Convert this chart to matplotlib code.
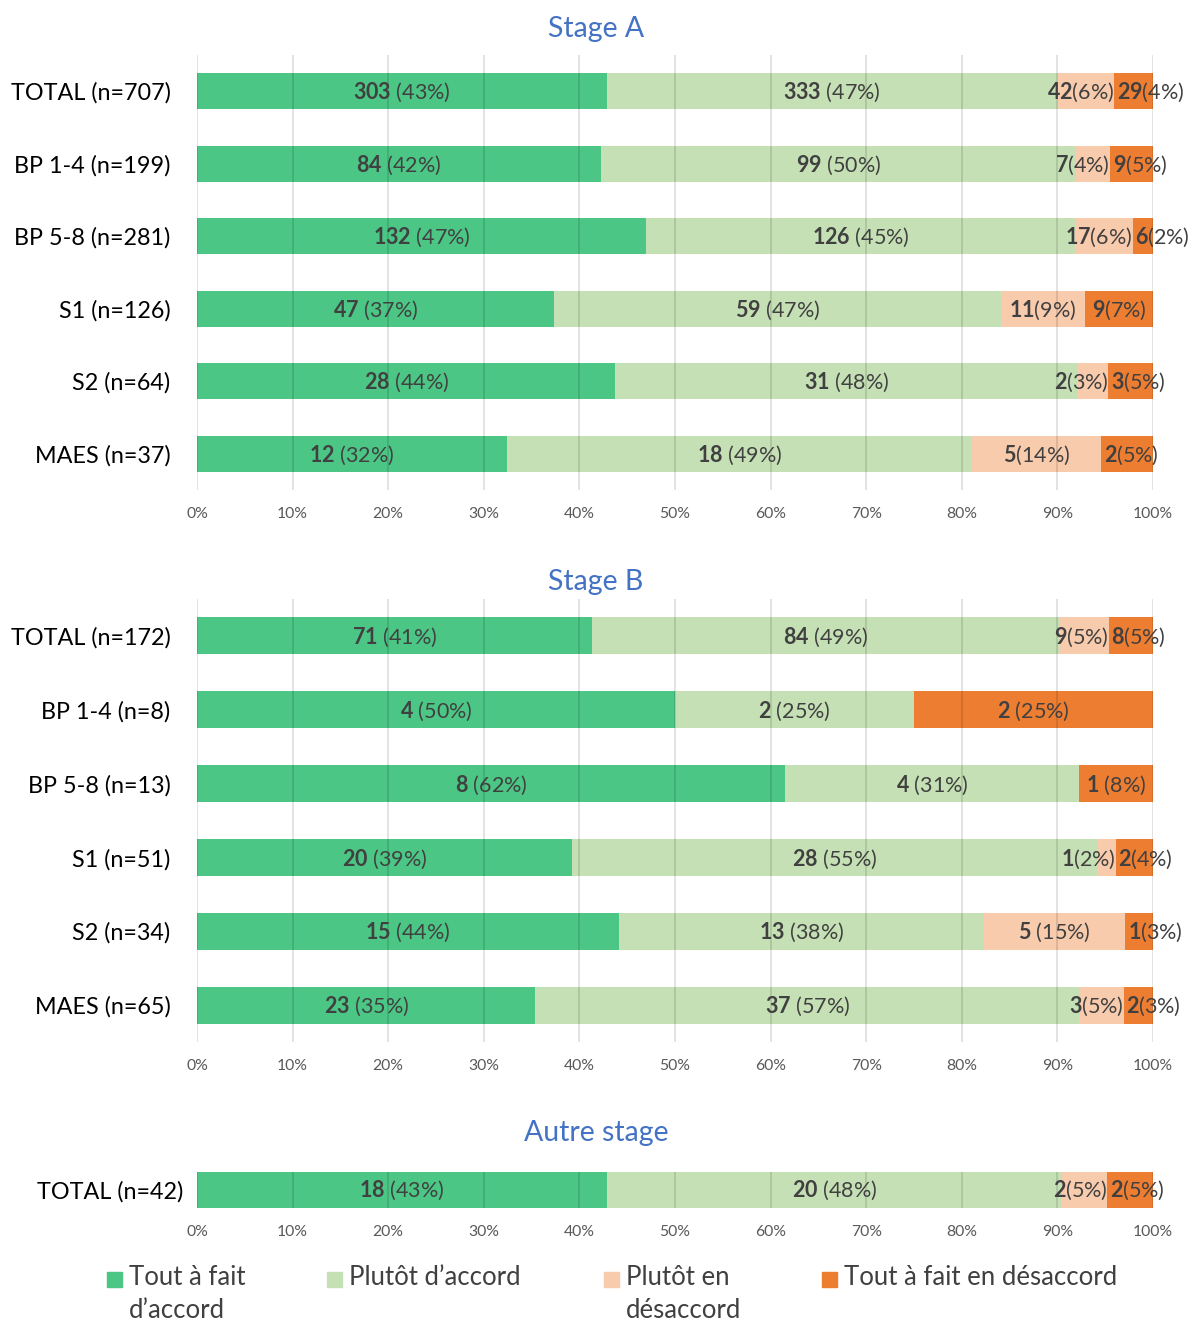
import matplotlib.pyplot as plt
from matplotlib.patches import Rectangle
from matplotlib.ticker import PercentFormatter

plt.rcParams['font.family'] = ['Lato', 'DejaVu Sans']
plt.rcParams['mathtext.fontset'] = 'custom'
plt.rcParams['mathtext.rm'] = 'Lato'
plt.rcParams['mathtext.bf'] = 'Lato:bold'

series = ['Tout à fait\nd’accord', 'Plutôt d’accord', 'Plutôt en\ndésaccord', 'Tout à fait en désaccord']
colors = ['#4BC685', '#C5E0B4', '#F8CBAD', '#ED7D31']

# Stage A
groups_a = ['TOTAL (n=707)', 'BP 1-4 (n=199)', 'BP 5-8 (n=281)', 'S1 (n=126)', 'S2 (n=64)', 'MAES (n=37)']
a_tout = [303, 84, 132, 47, 28, 12]
a_plutot = [333, 99, 126, 59, 31, 18]
a_pasplutot = [42, 7, 17, 11, 2, 5]
a_pastout = [29, 9, 6, 9, 3, 2]

# Stage B
groups_b = ['TOTAL (n=172)', 'BP 1-4 (n=8)', 'BP 5-8 (n=13)', 'S1 (n=51)', 'S2 (n=34)', 'MAES (n=65)']
b_tout = [71, 4, 8, 20, 15, 23]
b_plutot = [84, 2, 4, 28, 13, 37]
b_pasplutot = [9, 0, 0, 1, 5, 3]
b_pastout = [8, 2, 1, 2, 1, 2]

# Autre stage
groups_c = ['TOTAL (n=42)']
c_tout = [18]
c_plutot = [20]
c_pasplutot = [2]
c_pastout = [2]

W, H = 1192, 1323
fig = plt.figure(figsize=(W / 100, H / 100), dpi=100)
renderer = fig.canvas.get_renderer()

x0, x1 = 197, 1153


def make_ax(top, bottom):
    return fig.add_axes([x0 / W, 1 - bottom / H, (x1 - x0) / W, (bottom - top) / H])


def draw_panel(ax, groups, counts, title, title_y, bar_h, lab_pad):
    totals = [sum(c) for c in zip(*counts)]
    ypos = list(range(len(groups)))
    left = [0.0] * len(groups)
    ax_w = ax.get_window_extent(renderer).width
    for k, vals in enumerate(counts):
        frac = [v / t for v, t in zip(vals, totals)]
        ax.barh(ypos, frac, left=left, height=bar_h, color=colors[k], zorder=1)
        for i, (v, f) in enumerate(zip(vals, frac)):
            if v == 0:
                continue
            pct = round(f * 100)
            sep = '' if (f < 0.145 and totals[i] > 20) else ' '
            s = r'$\mathbf{%d}$%s(%d%%)' % (v, sep, pct)
            t = ax.text(left[i] + f / 2, i + 0.02, s, ha='center', va='center',
                        fontsize=15.5, color='#404040', zorder=3)
            tw = t.get_window_extent(renderer).width
            # labels that do not fit are pushed apart like in the original
            if tw > f * ax_w - 2:
                if k == 2:
                    t.set_x(left[i] + f)
                    t.set_ha('right')
                elif k == 3:
                    t.set_x(left[i] + 0.003)
                    t.set_ha('left')
        left = [l + f for l, f in zip(left, frac)]

    ax.set_xlim(0, 1)
    ax.set_ylim(len(groups) - 0.5, -0.5)
    ax.set_yticks(ypos)
    ax.set_yticklabels(groups, fontsize=16.8, color='black')
    ax.set_xticks([i / 10 for i in range(11)])
    ax.xaxis.set_major_formatter(PercentFormatter(1.0, decimals=0))
    ax.tick_params(axis='x', length=0, pad=12, labelsize=11.3, labelcolor='#595959')
    ax.tick_params(axis='y', length=0, pad=lab_pad)
    ax.grid(axis='x', color='black', alpha=0.12, linewidth=1.3, zorder=2)
    ax.set_axisbelow(False)
    for sp in ax.spines.values():
        sp.set_visible(False)
    fig.text(0.5, 1 - title_y / H, title, ha='center', va='center',
             fontsize=20.5, color='#4472C4')


ax_a = make_ax(55, 490)
draw_panel(ax_a, groups_a, [a_tout, a_plutot, a_pasplutot, a_pastout], 'Stage A', 29, 0.5, 19)

ax_b = make_ax(599, 1042)
draw_panel(ax_b, groups_b, [b_tout, b_plutot, b_pasplutot, b_pastout], 'Stage B', 582, 0.5, 19)

ax_c = make_ax(1172, 1208)
draw_panel(ax_c, groups_c, [c_tout, c_plutot, c_pasplutot, c_pastout], 'Autre stage', 1133, 1.0, 10)

# legend
leg_x = [107, 327, 604, 822]
for lx, name, col in zip(leg_x, series, colors):
    fig.patches.append(Rectangle((lx / W, 1 - 1287 / H), 15 / W, 15 / H,
                                 transform=fig.transFigure, color=col))
    fig.text((lx + 22) / W, 1 - 1265 / H, name, ha='left', va='top',
             fontsize=18.5, color='#404040', linespacing=1.42)

fig.savefig('out.png', dpi=100)
